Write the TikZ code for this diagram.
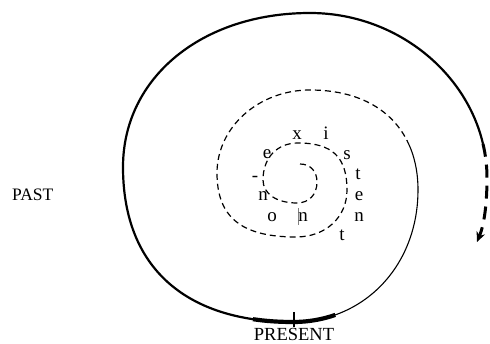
\documentclass[tikz,border=0pt]{standalone}
\usepackage{fontspec}
\setmainfont{Liberation Serif}
\usetikzlibrary{arrows.meta, positioning}

\begin{document}
\begin{tikzpicture}[
    x=1pt, y=-1pt,
    word/.style={font=\fontsize{19}{19}\selectfont, inner sep=0pt, anchor=base},
    tag/.style={font=\fontsize{18.5}{18.5}\selectfont, inner sep=0pt},
    early/.style={line width=1.2pt, dash pattern=on 6pt off 4pt},
    recent/.style={line width=1.1pt},
    now/.style={line width=4.2pt},
    history/.style={line width=2.2pt},
    future/.style={line width=3pt, dash pattern=on 13pt off 8pt, -{Stealth[length=10pt, width=9pt]}}
]
\useasboundingbox (0,0) rectangle (490,344);

\coordinate (start) at (300,164);
\coordinate (fade) at (407.3,141.1);
\coordinate (side) at (418,190);
\coordinate (nowR) at (335.3,314.9);
\coordinate (bottom) at (293,322);
\coordinate (nowL) at (253,319.2);
\coordinate (left) at (123,167);
\coordinate (top) at (310,13);
\coordinate (edge) at (483,143.9);
\coordinate (right) at (487,178);
\coordinate (tip) at (477,242);

% the spiral, from the centre outwards
\draw[early] (start) .. controls (310.2,164) and (317,171.2) .. (317,182)
    .. controls (317,194.6) and (309,203) .. (297,203)
    .. controls (276.6,203) and (263,193.8) .. (263,180)
    .. controls (263,157.8) and (277,143) .. (298,143)
    .. controls (332.3,143) and (347,157.1) .. (347,190)
    .. controls (347,217.3) and (325.6,237) .. (296,237)
    .. controls (241.5,237) and (217,217.2) .. (217,173)
    .. controls (217,127.2) and (258.7,90) .. (310,90)
    .. controls (356.9,90) and (391.1,108.6) .. (fade);
\draw[recent] (fade) .. controls (414.3,155) and (418,171.4) .. (side)
    .. controls (418,249.6) and (384.6,297.4) .. (nowR);
\draw[now] (nowR) .. controls (322.2,319.5) and (308,322) .. (bottom)
    .. controls (278.9,322) and (265.5,321.1) .. (nowL);
\draw[history] (nowL) .. controls (169.3,306.7) and (123,253.3) .. (left)
    .. controls (123,77.8) and (201.7,13) .. (top)
    .. controls (393.8,13) and (465.7,69.9) .. (edge);
\draw[future] (edge) .. controls (485.6,154.9) and (487,166.3) .. (right)
    .. controls (487,205) and (484,225) .. (tip);

% marks
\draw[line width=2pt] (294,312) -- (294,327);
\draw[gray, line width=0.7pt] (298,208) -- (298,225);

\node[word] (n1) at (303,222) {n};
\node[word] (o1) at (272,222) {o};
\node[word] (n2) at (263,201) {n};
\node[word] (hy) at (255,181.5) {-};
\node[word] (e1) at (267,159) {e};
\node[word] (x1) at (297,140) {x};
\node[word] (i1) at (326,140) {i};
\node[word] (s1) at (347,160) {s};
\node[word] (t1) at (358,180) {t};
\node[word] (e2) at (359,201) {e};
\node[word] (n3) at (359,222) {n};
\node[word] (t2) at (342,241) {t};

\node[tag, font=\fontsize{17.5}{17.5}\selectfont, anchor=base west] (past) at (12,201) {PAST};
\node[tag, anchor=base] (present) at (294,340.5) {PRESENT};
\end{tikzpicture}
\end{document}
